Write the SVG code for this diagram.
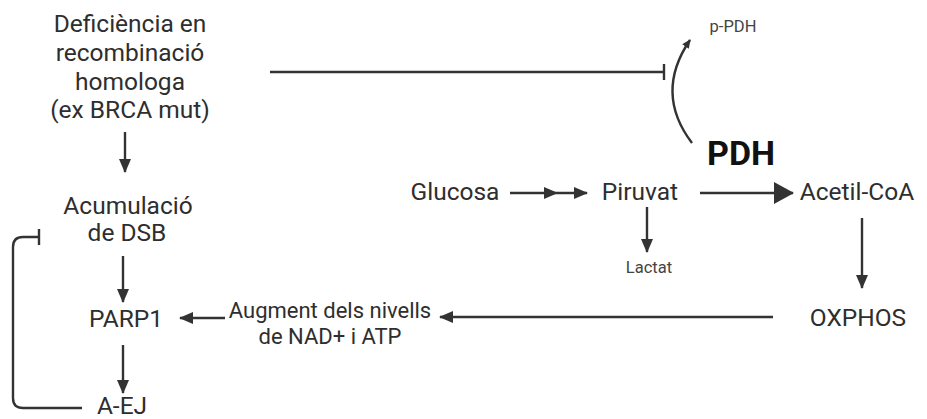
<svg xmlns="http://www.w3.org/2000/svg" width="927" height="419" viewBox="0 0 927 419">
<style>
text{font-family:Roboto,"Liberation Sans",sans-serif;fill:#2e2e2e;text-anchor:middle}
.m{font-size:24.5px}
.s{font-size:22px}
.xs{font-size:16.5px;fill:#444}
.b{font-size:34px;font-weight:bold;fill:#111}
.c{fill:none;stroke:#333;stroke-width:2.4}
</style>
<defs>
<marker id="ah" viewBox="0 0 14 12" refX="13" refY="6" markerWidth="14" markerHeight="12" markerUnits="userSpaceOnUse" orient="auto"><path d="M0 0L14 6L0 12Z" fill="#333"/></marker>
<marker id="big" viewBox="0 0 20 22" refX="19" refY="11" markerWidth="20" markerHeight="22" markerUnits="userSpaceOnUse" orient="auto"><path d="M0 0L20 11L0 22Z" fill="#333"/></marker>
<marker id="sm" viewBox="0 0 9 8" refX="8" refY="4" markerWidth="9" markerHeight="8" markerUnits="userSpaceOnUse" orient="auto"><path d="M0 0L9 4L0 8Z" fill="#333"/></marker>
<marker id="tee" viewBox="0 0 4 16" refX="2" refY="8" markerWidth="4" markerHeight="16" markerUnits="userSpaceOnUse" orient="auto"><path d="M2 0V16" stroke="#333" stroke-width="2.4"/></marker>
</defs>
<g id="connectors">
<path class="c" d="M270 72H664" marker-end="url(#tee)"/>
<path class="c" d="M692 143Q654 93 690 40" marker-end="url(#sm)"/>
<path class="c" d="M125 132V172" marker-end="url(#ah)"/>
<path class="c" d="M123 256V302" marker-end="url(#ah)"/>
<path class="c" d="M123 345V393" marker-end="url(#ah)"/>
<path class="c" d="M82 408H23Q13 408 13 398V247Q13 237 23 237H39" marker-end="url(#tee)"/>
<path class="c" d="M225 318H180" marker-end="url(#ah)"/>
<path class="c" d="M773 317H440" marker-end="url(#ah)"/>
<path class="c" d="M510 193L557 193L587 193" marker-mid="url(#ah)" marker-end="url(#ah)"/>
<path class="c" d="M647 207V252" marker-end="url(#ah)"/>
<path class="c" d="M700 193H793" marker-end="url(#big)"/>
<path class="c" d="M862 218V288" marker-end="url(#ah)"/>
</g>
<g id="deficiencia"><text class="m" x="130" y="32">Deficiència en</text><text class="m" x="130" y="61">recombinació</text><text class="m" x="130" y="90">homologa</text><text class="m" x="130" y="118">(ex BRCA mut)</text></g>
<g id="acumulacio"><text class="m" x="128" y="214">Acumulació</text><text class="m" x="127" y="241">de DSB</text></g>
<g id="parp1"><text class="m" x="126" y="327">PARP1</text></g>
<g id="aej"><text class="m" x="122" y="414">A-EJ</text></g>
<g id="augment"><text class="s" x="330" y="318">Augment dels nivells</text><text class="s" x="330" y="344">de NAD+ i ATP</text></g>
<g id="ppdh"><text class="xs" x="733" y="32">p-PDH</text></g>
<g id="pdh"><text class="b" x="741" y="165">PDH</text></g>
<g id="glucosa"><text class="m" x="455" y="200">Glucosa</text></g>
<g id="piruvat"><text class="m" x="640" y="200">Piruvat</text></g>
<g id="lactat"><text class="xs" x="649" y="273">Lactat</text></g>
<g id="acetilcoa"><text class="m" x="857" y="200">Acetil-CoA</text></g>
<g id="oxphos"><text class="m" x="858" y="326">OXPHOS</text></g>
</svg>
